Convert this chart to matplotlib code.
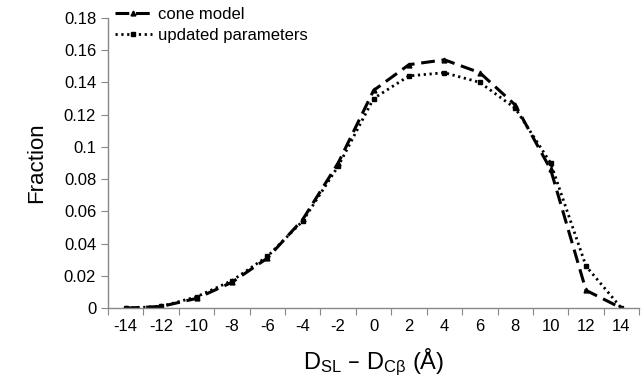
import matplotlib
matplotlib.use("Agg")
import matplotlib.pyplot as plt
import numpy as np

plt.rcParams['font.family'] = ['Liberation Sans', 'DejaVu Sans']

categories = [-14, -12, -10, -8, -6, -4, -2, 0, 2, 4, 6, 8, 10, 12, 14]
cone_model = [0.0, 0.001, 0.006, 0.016, 0.031, 0.055, 0.090, 0.135, 0.151,
              0.154, 0.146, 0.126, 0.086, 0.011, 0.0]
updated_params = [0.0, 0.001, 0.007, 0.017, 0.032, 0.054, 0.088, 0.130, 0.144,
                  0.146, 0.140, 0.124, 0.090, 0.026, 0.0]
yticks = [0, 0.02, 0.04, 0.06, 0.08, 0.1, 0.12, 0.14, 0.16, 0.18]

fig = plt.figure(figsize=(6.43, 3.89), dpi=100)
ax = fig.add_axes([0.168, 0.208, 0.826, 0.746])

x = np.arange(len(categories))
ax.plot(x, cone_model, color='black', lw=2.2, linestyle=(0, (4.5, 2.2)),
        marker='^', markersize=3.5, label='cone model')
ax.plot(x, updated_params, color='black', lw=2.0, linestyle=(0, (0.8, 1.3)),
        marker='s', markersize=2.5, label='updated parameters')

ax.set_xlim(-0.5, len(categories) - 0.5)
ax.set_ylim(0, 0.18)
ax.set_yticks(yticks)
ax.set_yticklabels(['0' if v == 0 else ('%g' % v) for v in yticks])

# category axis: ticks on boundaries, labels on categories
ax.set_xticks(np.arange(-0.5, len(categories), 1.0))
ax.set_xticklabels([])
ax.set_xticks(x, minor=True)
ax.set_xticklabels([str(c) for c in categories], minor=True)
ax.tick_params(axis='x', which='major', length=5, color='#888888', direction='out')
ax.tick_params(axis='x', which='minor', length=0, labelsize=12, pad=8)
ax.tick_params(axis='y', length=5, color='#888888', labelsize=12)

for s in ['top', 'right']:
    ax.spines[s].set_visible(False)
for s in ['left', 'bottom']:
    ax.spines[s].set_color('#888888')
    ax.spines[s].set_linewidth(1.0)

ax.set_ylabel('Fraction', fontsize=16, labelpad=12)
ax.set_xlabel(r'$\mathregular{D_{SL}}$ – $\mathregular{D_{C\beta}}$ (Å)', fontsize=17, labelpad=9)

ax.legend(loc='upper left', bbox_to_anchor=(-0.015, 1.09), frameon=False, fontsize=12,
          handlelength=2.2, handletextpad=0.4, labelspacing=0.35)

fig.savefig('out.png', dpi=100)
